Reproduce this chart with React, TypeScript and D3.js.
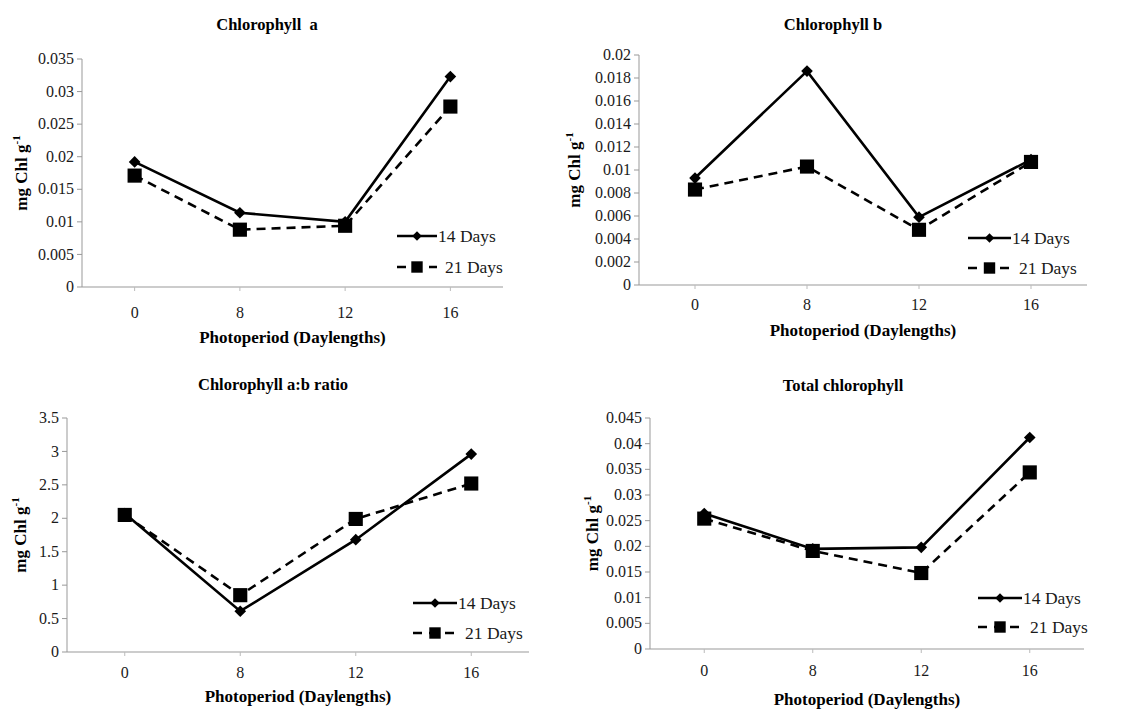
import * as d3 from 'd3';
import React from 'react';

// data
const photoperiods = ["0", "8", "12", "16"];
const seriesNames = ["14 Days", "21 Days"];

const chlA14 = [0.0192, 0.0114, 0.0100, 0.0323];
const chlA21 = [0.0171, 0.0088, 0.0094, 0.0277];
const chlB14 = [0.0093, 0.0186, 0.0059, 0.0109];
const chlB21 = [0.0083, 0.0103, 0.0048, 0.0107];
const ratio14 = [2.07, 0.61, 1.68, 2.96];
const ratio21 = [2.05, 0.85, 1.99, 2.52];
const total14 = [0.0264, 0.0195, 0.0198, 0.0412];
const total21 = [0.0254, 0.0191, 0.0148, 0.0344];

const ticksA = ["0", "0.005", "0.01", "0.015", "0.02", "0.025", "0.03", "0.035"];
const ticksB = ["0", "0.002", "0.004", "0.006", "0.008", "0.01", "0.012", "0.014", "0.016", "0.018", "0.02"];
const ticksRatio = ["0", "0.5", "1", "1.5", "2", "2.5", "3", "3.5"];
const ticksTotal = ["0", "0.005", "0.01", "0.015", "0.02", "0.025", "0.03", "0.035", "0.04", "0.045"];

const titles = ["Chlorophyll\u00a0\u00a0a", "Chlorophyll b", "Chlorophyll a:b ratio", "Total chlorophyll"];
const xTitle = "Photoperiod (Daylengths)";

const panels = [
  {title: titles[0], s14: chlA14, s21: chlA21, ticks: ticksA,
   left: 82, right: 503, top: 59, bottom: 287, titleX: 267, titleY: 30, xLabY: 343, yLabX: 27, tickOff: 26,
   legX1: 397, legX2: 437, legY: [236, 267]},
  {title: titles[1], s14: chlB14, s21: chlB21, ticks: ticksB,
   left: 639, right: 1087, top: 55, bottom: 285, titleX: 833, titleY: 30, xLabY: 336, yLabX: 580, tickOff: 20,
   legX1: 968, legX2: 1011, legY: [238, 268]},
  {title: titles[2], s14: ratio14, s21: ratio21, ticks: ticksRatio,
   left: 67, right: 529, top: 418, bottom: 652, titleX: 273, titleY: 390, xLabY: 702, yLabX: 26, tickOff: 21,
   legX1: 413, legX2: 457, legY: [603, 633]},
  {title: titles[3], s14: total14, s21: total21, ticks: ticksTotal,
   left: 650, right: 1084, top: 418, bottom: 649, titleX: 843, titleY: 391, xLabY: 705, yLabX: 598, tickOff: 22,
   legX1: 978, legX2: 1022, legY: [598, 627]},
];

const axisColor = "#999";
const textColor = "#1a1a1a";
const serif = {fontFamily: "Liberation Serif"};

const Panel = ({p}) => {
  const tickVals = p.ticks.map(Number);
  const x = d3.scaleBand().domain(photoperiods).range([p.left, p.right]);
  const y = d3.scaleLinear().domain([0, d3.max(tickVals)]).range([p.bottom, p.top]);
  const cx = (i: number) => x(photoperiods[i]) + x.bandwidth() / 2;
  const line = d3.line<number>().x((d, i) => cx(i)).y(d => y(d));
  const diamond = d3.symbol().type(d3.symbolSquare).size(68)();
  const square = d3.symbol().type(d3.symbolSquare).size(200)();
  const legDiamond = d3.symbol().type(d3.symbolSquare).size(45)();
  const legSquare = d3.symbol().type(d3.symbolSquare).size(130)();
  const mid = (p.legX1 + p.legX2) / 2;
  const yMid = (p.top + p.bottom) / 2;

  return (
    <g>
      {/* axes */}
      <line x1={p.left} x2={p.left} y1={p.top} y2={p.bottom} stroke={axisColor} />
      <line x1={p.left} x2={p.right} y1={p.bottom} y2={p.bottom} stroke={axisColor} />
      {tickVals.map((v, i) => (
        <g key={"y" + i} transform={`translate(${p.left},${y(v)})`}>
          <line x1={-5} x2={0} stroke={axisColor} />
          <text x={-8} dy="0.32em" textAnchor="end" fontSize={16} fill={textColor} style={serif}>{p.ticks[i]}</text>
        </g>
      ))}
      {photoperiods.map((c, i) => (
        <g key={"x" + c} transform={`translate(${cx(i)},${p.bottom})`}>
          <line y1={0} y2={4} stroke="#bbb" />
          <text y={p.tickOff} dy="0.32em" textAnchor="middle" fontSize={16} fill={textColor} style={serif}>{c}</text>
        </g>
      ))}

      {/* titles */}
      <text x={p.titleX} y={p.titleY} textAnchor="middle" fontWeight="bold" fontSize={16.5} style={serif}>{p.title}</text>
      <text x={(p.left + p.right) / 2} y={p.xLabY} textAnchor="middle" fontWeight="bold" fontSize={17} style={serif}>{xTitle}</text>
      <text transform={`translate(${p.yLabX},${yMid}) rotate(-90)`} textAnchor="middle" fontWeight="bold" fontSize={17} style={serif}>
        <tspan style={serif}>mg Chl g</tspan>
        <tspan dy={-7} fontSize={11} style={serif}>-1</tspan>
      </text>

      {/* series */}
      <path d={line(p.s21)} fill="none" stroke="#000" strokeWidth={2.6} strokeDasharray="9,6" />
      <path d={line(p.s14)} fill="none" stroke="#000" strokeWidth={2.6} />
      {p.s21.map((v, i) => (
        <path key={"s" + i} d={square} transform={`translate(${cx(i)},${y(v)})`} fill="#000" />
      ))}
      {p.s14.map((v, i) => (
        <path key={"d" + i} d={diamond} transform={`translate(${cx(i)},${y(v)}) rotate(45)`} fill="#000" />
      ))}

      {/* legend */}
      <line x1={p.legX1} x2={p.legX2} y1={p.legY[0]} y2={p.legY[0]} stroke="#000" strokeWidth={2.6} />
      <path d={legDiamond} transform={`translate(${mid},${p.legY[0]}) rotate(45)`} fill="#000" />
      <line x1={p.legX1} x2={p.legX2} y1={p.legY[1]} y2={p.legY[1]} stroke="#000" strokeWidth={2.6} strokeDasharray="9,7" />
      <path d={legSquare} transform={`translate(${mid},${p.legY[1]})`} fill="#000" />
      {seriesNames.map((name, i) => (
        <text key={name} x={p.legX2 + (i === 0 ? 1 : 8)} y={p.legY[i]} dy="0.35em" fontSize={17.5} fill={textColor} style={serif}>{name}</text>
      ))}
    </g>
  );
};

const App = () => (
  <svg width={1124} height={709} style={{position: "absolute", left: 0, top: 0, background: "#fff"}}>
    {panels.map((p, i) => <Panel key={i} p={p} />)}
  </svg>
);

export default App;
